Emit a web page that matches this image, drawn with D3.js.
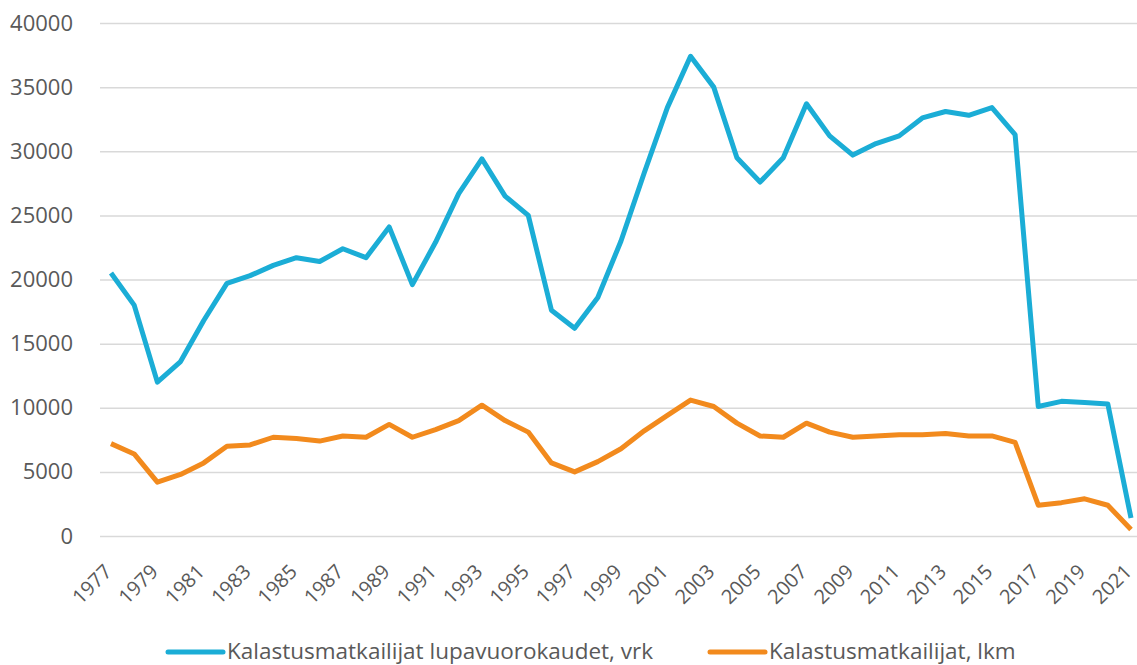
<!DOCTYPE html>
<html>
<head>
<meta charset="utf-8">
<script src="https://cdn.jsdelivr.net/npm/d3@7"></script>
<style>
  body { margin: 0; background: #fff; }
  text { font-family: "Open Sans", sans-serif; fill: #595959; }
</style>
</head>
<body>
<svg id="chart"></svg>
<script>
var years = d3.range(1977, 2022);

var lupavuorokaudet = [
  20500, 18000, 12000, 13600, 16800, 19700, 20300, 21100, 21700, 21400,
  22400, 21700, 24100, 19600, 22900, 26700, 29400, 26500, 25000, 17600,
  16200, 18600, 23000, 28300, 33400, 37400, 35000, 29500, 27600, 29500,
  33700, 31200, 29700, 30600, 31200, 32600, 33100, 32800, 33400, 31300,
  10100, 10500, 10400, 10300, 1400
];

var kalastusmatkailijat = [
  7200, 6400, 4200, 4800, 5700, 7000, 7100, 7700, 7600, 7400,
  7800, 7700, 8700, 7700, 8300, 9000, 10200, 9000, 8100, 5700,
  5000, 5800, 6800, 8200, 9400, 10600, 10100, 8800, 7800, 7700,
  8800, 8100, 7700, 7800, 7900, 7900, 8000, 7800, 7800, 7300,
  2400, 2600, 2900, 2400, 500
];

var yTicks = [0, 5000, 10000, 15000, 20000, 25000, 30000, 35000, 40000];
var xTickYears = years.filter(function(d, i) { return i % 2 == 0; });

var series = [
  {name: "Kalastusmatkailijat lupavuorokaudet, vrk", color: "#1badd6", values: lupavuorokaudet},
  {name: "Kalastusmatkailijat, lkm", color: "#f28a1d", values: kalastusmatkailijat}
];

var width = 1137, height = 665;
var svg = d3.select("#chart").attr("width", width).attr("height", height);

var x = d3.scalePoint().domain(years).range([111, 1131]);
var y = d3.scaleLinear().domain([0, 40000]).range([536, 23]);

// gridlines + y labels
var yAxis = svg.append("g")
  .attr("transform", "translate(100,0)")
  .call(d3.axisLeft(y).tickValues(yTicks).tickSize(-1037).tickPadding(27).tickFormat(d3.format("d")));
yAxis.select(".domain").remove();
yAxis.selectAll("line").attr("stroke", "#d9d9d9").attr("stroke-width", 1.5);
yAxis.selectAll("text").style("font-size", "22px").attr("fill", "#595959");

// x labels, every other year
svg.append("g").selectAll("text")
  .data(xTickYears)
  .enter().append("text")
  .attr("transform", function(d) { return "translate(" + (x(d) + 2) + ",573) rotate(-45)"; })
  .attr("text-anchor", "end")
  .style("font-size", "20px")
  .text(function(d) { return d; });

// lines
var line = d3.line()
  .x(function(d, i) { return x(years[i]); })
  .y(function(d) { return y(d); });

svg.selectAll(".series")
  .data(series)
  .enter().append("path")
  .attr("class", "series")
  .attr("d", function(d) { return line(d.values); })
  .attr("fill", "none")
  .attr("stroke", function(d) { return d.color; })
  .attr("stroke-width", 5)
  .attr("stroke-linejoin", "round");

// legend
var legendX = [168, 710];
var legend = svg.selectAll(".legend")
  .data(series)
  .enter().append("g")
  .attr("transform", function(d, i) { return "translate(" + legendX[i] + ",652)"; });

legend.append("line")
  .attr("x1", 0).attr("x2", 55)
  .attr("stroke", function(d) { return d.color; })
  .attr("stroke-width", 5)
  .attr("stroke-linecap", "round");

legend.append("text")
  .attr("x", 59)
  .attr("y", 7)
  .style("font-size", "22.5px")
  .text(function(d) { return d.name; });
</script>
</body>
</html>
